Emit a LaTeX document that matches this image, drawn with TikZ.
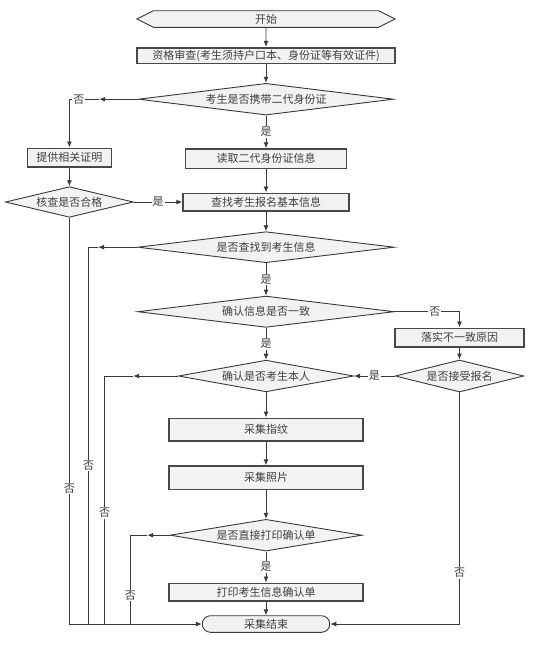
\documentclass[tikz,border=0pt]{standalone}
\usepackage{fontspec}
\newfontfamily\cjk{Noto Sans CJK SC}
\usetikzlibrary{shapes.geometric}
\usetikzlibrary{shapes.misc}
\usetikzlibrary{shapes.symbols}
\usetikzlibrary{arrows.meta}
\definecolor{linegray}{HTML}{3A3A3A}
\definecolor{edgegray}{HTML}{484848}
\definecolor{boxfill}{HTML}{F2F2F2}
\definecolor{textgray}{HTML}{404040}

\begin{document}
\begin{tikzpicture}[x=1pt, y=-1pt,
    font=\cjk\fontsize{11}{13}\selectfont,
    box/.style={rectangle, draw=edgegray, fill=boxfill, line width=1.6pt, inner sep=0pt, text=textgray},
    decision/.style={diamond, draw=linegray, fill=boxfill, line width=0.9pt, inner sep=0pt, aspect=8, text=textgray},
    startbox/.style={signal, signal to=west and east, signal pointer angle=53, draw=linegray, fill=boxfill, line width=0.9pt, inner sep=0pt, text=textgray},
    stopbox/.style={rounded rectangle, draw=linegray, fill=boxfill, line width=0.9pt, inner sep=0pt, text=textgray},
    conn/.style={draw=linegray, line width=0.9pt},
    arr/.style={conn, -{Latex[length=6pt,width=5pt]}},
    lbl/.style={fill=white, inner sep=1pt, text=textgray}]
    \useasboundingbox (0,0) rectangle (550,648);
    % main column
    \node[startbox, minimum width=258.3, minimum height=16.6] (start) at (266,19) {开始};
    \node[box, minimum width=257.6, minimum height=15.6] (check) at (266,55.5) {资格审查(考生须持户口本、身份证等有效证件)};
    \node[decision, minimum width=255, minimum height=31.7] (d1) at (266,99.2) {考生是否携带二代身份证};
    \node[box, minimum width=161.2, minimum height=19.3] (read) at (266,158.7) {读取二代身份证信息};
    \node[box, minimum width=165.8, minimum height=17.4] (search) at (266,202) {查找考生报名基本信息};
    \node[decision, minimum width=256.6, minimum height=31] (d2) at (266,247.2) {是否查找到考生信息};
    \node[decision, minimum width=256.6, minimum height=31.3] (d3) at (266,311.7) {确认信息是否一致};
    \node[decision, minimum width=175.2, minimum height=31.7, aspect=5.5] (self) at (266,376) {确认是否考生本人};
    \node[box, minimum width=193.5, minimum height=22.4] (finger) at (266,429.5) {采集指纹};
    \node[box, minimum width=193.5, minimum height=23.3] (photo) at (266,477.7) {采集照片};
    \node[decision, minimum width=192, minimum height=31.7, aspect=6] (d4) at (266,535.2) {是否直接打印确认单};
    \node[box, minimum width=193.5, minimum height=17.4] (print) at (266,592) {打印考生信息确认单};
    \node[stopbox, minimum width=127.6, minimum height=16.6] (finish) at (266,624) {采集结束};
    % left column
    \node[box, minimum width=84.2, minimum height=18.4] (proof) at (69.4,157.5) {提供相关证明};
    \node[decision, minimum width=128, minimum height=30.6, aspect=4.2] (verify) at (69.4,202) {核查是否合格};
    % right column
    \node[box, minimum width=129, minimum height=18.4] (cause) at (459.5,337.5) {落实不一致原因};
    \node[decision, minimum width=128.6, minimum height=32, aspect=4.2] (accept) at (459.5,376) {是否接受报名};
    % turning points
    \coordinate (noid) at (99.2,99.2);
    \coordinate (nofind) at (98.1,247.2);
    \coordinate (noself) at (133.2,376);
    \coordinate (noprint) at (147.2,535.2);
    \coordinate (findend) at (88.7,624);
    \coordinate (selfend) at (104.5,624);
    \coordinate (printend) at (130.4,624);
    % main flow
    \draw[arr] (start) -- (check);
    \draw[arr] (check) -- (d1);
    \draw[arr] (d1) -- node[lbl]{是} (read);
    \draw[arr] (read) -- (search);
    \draw[arr] (search) -- (d2);
    \draw[arr] (d2) -- node[lbl]{是} (d3);
    \draw[arr] (d3) -- node[lbl]{是} (self);
    \draw[arr] (self) -- (finger);
    \draw[arr] (finger) -- (photo);
    \draw[arr] (photo) -- (d4);
    \draw[arr] (d4) -- node[lbl]{是} (print);
    \draw[arr] (print) -- (finish);
    % no id card
    \draw[arr] (d1.west) -- (noid);
    \draw[arr] (noid) -| node[lbl, pos=0.34]{否} (proof.north);
    \draw[arr] (proof) -- (verify);
    \draw[arr] (verify.east) -- node[lbl]{是} (search.west);
    \draw[arr] (verify.south) -- node[lbl, pos=0.666]{否} (verify.south |- finish.west) -- (finish.west);
    % other refusals
    \draw[arr] (d2.west) -- (nofind);
    \draw[conn] (nofind) -| node[lbl, pos=0.79]{否} (findend);
    \draw[arr] (self.west) -- (noself);
    \draw[conn] (noself) -| node[lbl, pos=0.776]{否} (selfend);
    \draw[arr] (d4.west) -- (noprint);
    \draw[conn] (noprint) -| node[lbl, pos=0.84]{否} (printend);
    % mismatch
    \draw[arr] (d3.east) -| node[lbl, pos=0.31]{否} (cause.north);
    \draw[arr] (cause) -- (accept);
    \draw[arr] (accept.west) -- node[lbl]{是} (self.east);
    \draw[arr] (accept.south) |- node[lbl, pos=0.39]{否} (finish.east);
\end{tikzpicture}
\end{document}
